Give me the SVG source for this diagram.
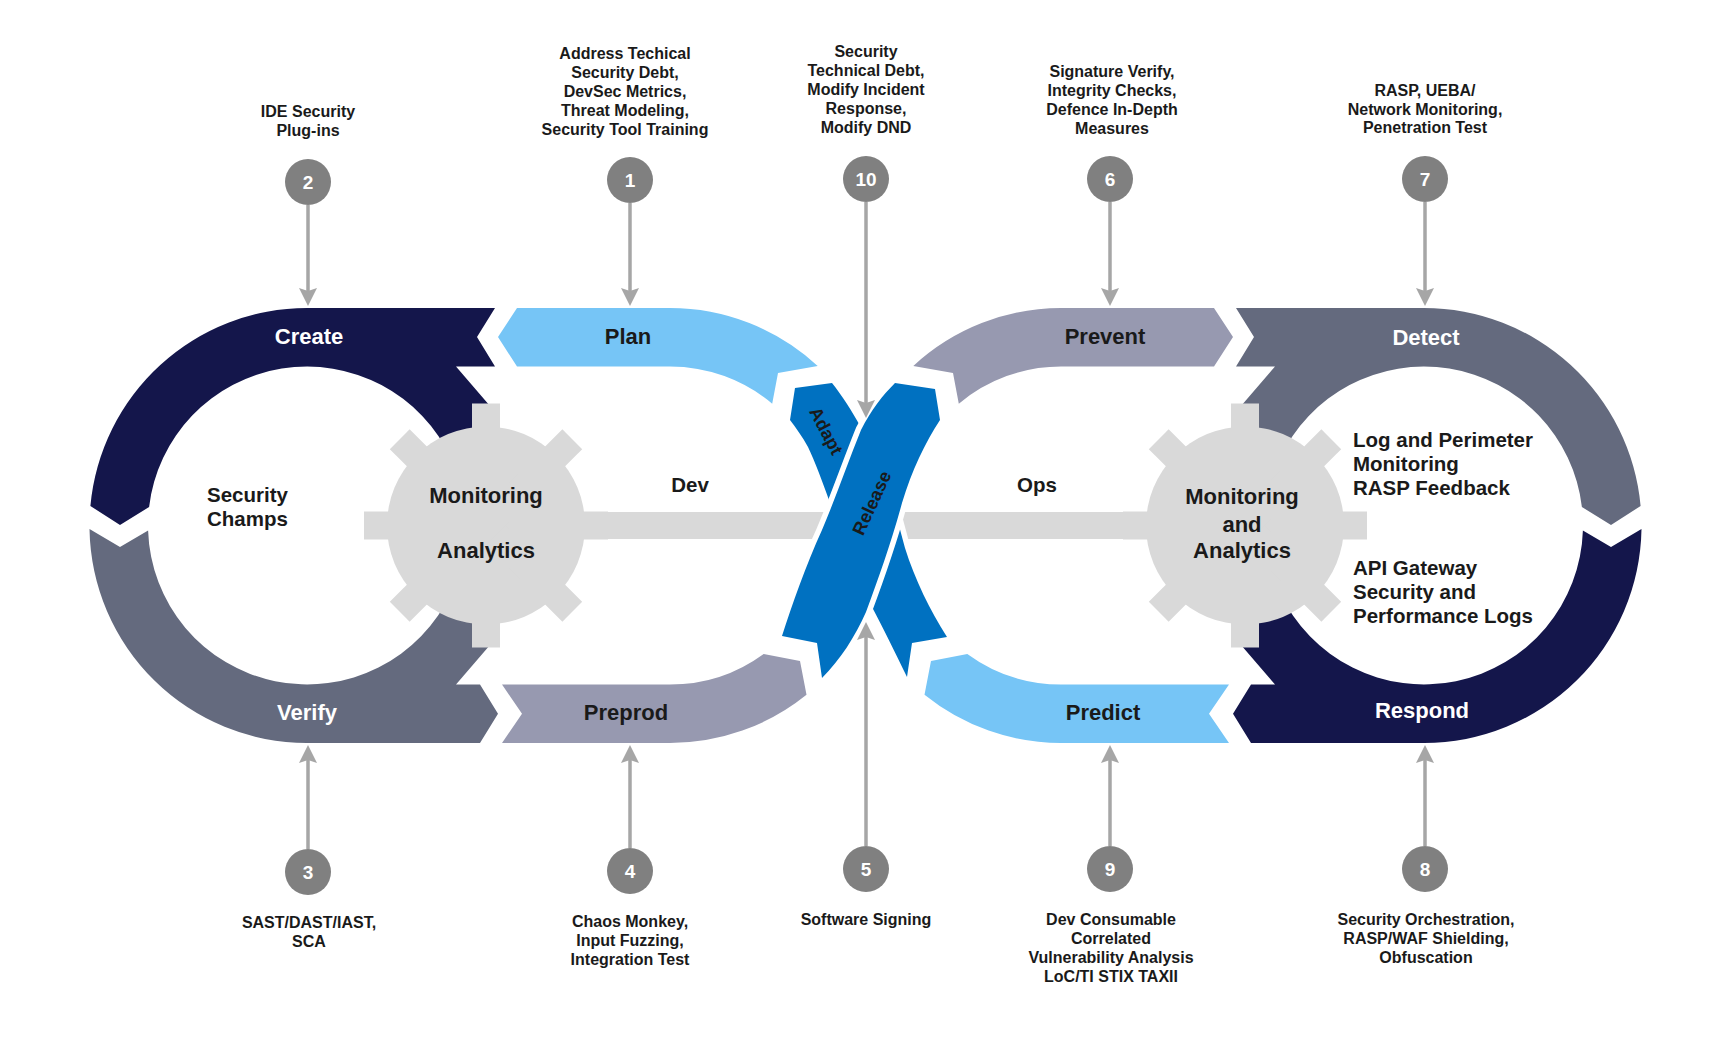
<svg xmlns="http://www.w3.org/2000/svg" width="1732" height="1058" viewBox="0 0 1732 1058">
<style>
.lbl{font-family:"Liberation Sans",Arial,sans-serif;font-weight:bold;font-size:16px;fill:#1a1a1a;text-anchor:middle}
.band{font-family:"Liberation Sans",Arial,sans-serif;font-weight:bold;font-size:22px;text-anchor:middle}
.w{fill:#ffffff}
.d{fill:#1a1a1a}
.mid{font-family:"Liberation Sans",Arial,sans-serif;font-weight:bold;font-size:20.5px;fill:#1a1a1a}
.gt{font-family:"Liberation Sans",Arial,sans-serif;font-weight:bold;font-size:22px;fill:#1a1a1a;text-anchor:middle}
.rib{font-family:"Liberation Sans",Arial,sans-serif;font-weight:bold;font-size:18px;fill:#1a1a1a;text-anchor:middle}
.num{font-family:"Liberation Sans",Arial,sans-serif;font-weight:bold;font-size:19px;fill:#ffffff;text-anchor:middle}
.navy{fill:#14164b}
.slate{fill:#646a7e}
.lblue{fill:#76c5f6}
.lav{fill:#9799b0}
.ribbon{fill:#0071c1;stroke:#ffffff;stroke-width:11;stroke-linejoin:round;paint-order:stroke fill}
.gear{fill:#d9d9d9}
.circ{fill:#808080}
.arr{stroke:#a6a6a6;stroke-width:3.5;fill:none;marker-end:url(#ah)}
</style>
<defs>
<marker id="ah" markerWidth="18" markerHeight="18" refX="3" refY="9" orient="auto" markerUnits="userSpaceOnUse">
<path d="M0,0 L18,9 L0,18 L3,9 Z" fill="#a6a6a6"/>
</marker>
<path id="createShape" d="M90.4,506 A217.5,217.5 0 0 1 307,308 L495,308 L477,337 L495,366.5 L456,366.5 L490,406 L486,525.5 L451.1,458.3 A159,159 0 0 0 149.1,507 L120,525 Z"/>
<path id="verifyShape" d="M89.5,529 L120,547 L148.1,530.5 A159,159 0 0 0 451.1,592.7 L486,525.5 L490,645 L456,684.5 L480,684.5 L498,713.75 L480,743 L307,743 A217.5,217.5 0 0 1 89.5,529 Z"/>
<path id="planShape" d="M498,337 L517,308 L670,308 A217.5,217.5 0 0 1 817.7,365.9 L778,373 L772.2,403.7 A159,159 0 0 0 670,366.5 L517,366.5 Z"/>
<path id="preprodShape" d="M502,684.5 L670,684.5 A159,159 0 0 0 763.7,653.9 L800,661 L806.5,694.8 A217.5,217.5 0 0 1 670,743 L502,743 L522,713.75 Z"/>
<g id="gearShape">
<circle cx="0" cy="0" r="99"/>
<rect x="-122" y="-14" width="244" height="28"/>
<rect x="-14" y="-122" width="28" height="244"/>
<rect x="-122" y="-14" width="244" height="28" transform="rotate(45)"/>
<rect x="-122" y="-14" width="244" height="28" transform="rotate(-45)"/>
</g>
</defs>

<g id="create"><use href="#createShape" class="navy"/><text class="band w" x="309" y="344">Create</text></g>
<g id="verify"><use href="#verifyShape" class="slate"/><text class="band w" x="307" y="720">Verify</text></g>
<g id="plan"><use href="#planShape" class="lblue"/><text class="band d" x="628" y="344">Plan</text></g>
<g id="preprod"><use href="#preprodShape" class="lav"/><text class="band d" x="626" y="720">Preprod</text></g>

<g id="detect"><use href="#createShape" class="slate" transform="matrix(-1 0 0 1 1731 0)"/><text class="band w" x="1426" y="345">Detect</text></g>
<g id="respond"><use href="#verifyShape" class="navy" transform="matrix(-1 0 0 1 1731 0)"/><text class="band w" x="1422" y="718">Respond</text></g>
<g id="prevent"><use href="#planShape" class="lav" transform="matrix(-1 0 0 1 1731 0)"/><text class="band d" x="1105" y="344">Prevent</text></g>
<g id="predict"><use href="#preprodShape" class="lblue" transform="matrix(-1 0 0 1 1731 0)"/><text class="band d" x="1103" y="720">Predict</text></g>

<g id="axis">
<rect x="486" y="512" width="759" height="27" class="gear"/>
<text class="mid" x="690" y="492" text-anchor="middle">Dev</text>
<text class="mid" x="1037" y="492" text-anchor="middle">Ops</text>
</g>

<g id="adapt">
<path class="ribbon" d="M795,388 L832,383 C852,408 872,445 885,480 C895,508 900,530 905,548 C915,580 930,610 947,637 L912,643 L907,677 C895,652 883,628 872,607 C855,572 842,535 830,503 C822,480 815,462 808,447 C802,436 796,428 790,420 Z"/>
<text class="rib" transform="translate(826,431) rotate(62)" y="6">Adapt</text>
</g>
<g id="release">
<path class="ribbon" d="M895,383 L935,389 L940,420 C925,443 912,470 902,503 C892,540 878,580 866,612 C855,637 840,660 822,678 L817,643 L782,636 C792,605 806,565 822,530 C836,497 848,462 861,430 C871,410 883,395 895,383 Z"/>
<text class="rib" transform="translate(872,503) rotate(-65)" y="6">Release</text>
</g>

<g id="gear-left">
<use href="#gearShape" class="gear" transform="translate(486,525.5)"/>
<text class="gt" x="486" y="503">Monitoring</text>
<text class="gt" x="486" y="558">Analytics</text>
</g>
<g id="gear-right">
<use href="#gearShape" class="gear" transform="translate(1245,525.5)"/>
<text class="gt" x="1242" y="504">Monitoring</text>
<text class="gt" x="1242" y="532">and</text>
<text class="gt" x="1242" y="558">Analytics</text>
</g>

<g id="security-champs">
<text class="mid" x="207" y="502">Security</text>
<text class="mid" x="207" y="526">Champs</text>
</g>
<g id="right-notes">
<text class="mid" x="1353" y="447">Log and Perimeter</text>
<text class="mid" x="1353" y="471">Monitoring</text>
<text class="mid" x="1353" y="495">RASP Feedback</text>
<text class="mid" x="1353" y="575">API Gateway</text>
<text class="mid" x="1353" y="599">Security and</text>
<text class="mid" x="1353" y="623">Performance Logs</text>
</g>

<g id="connectors">
<line class="arr" x1="308" y1="205" x2="308" y2="291"/>
<line class="arr" x1="630" y1="203" x2="630" y2="291"/>
<line class="arr" x1="866" y1="202" x2="866" y2="403"/>
<line class="arr" x1="1110" y1="202" x2="1110" y2="291"/>
<line class="arr" x1="1425" y1="202" x2="1425" y2="291"/>
<line class="arr" x1="308" y1="849" x2="308" y2="760"/>
<line class="arr" x1="630" y1="848" x2="630" y2="760"/>
<line class="arr" x1="866" y1="846" x2="866" y2="637"/>
<line class="arr" x1="1110" y1="846" x2="1110" y2="760"/>
<line class="arr" x1="1425" y1="846" x2="1425" y2="760"/>
</g>

<g id="n2"><circle class="circ" cx="308" cy="182" r="23"/><text class="num" x="308" y="189">2</text>
<text class="lbl" x="308" y="117">IDE Security</text><text class="lbl" x="308" y="136">Plug-ins</text></g>
<g id="n1"><circle class="circ" cx="630" cy="180" r="23"/><text class="num" x="630" y="187">1</text>
<text class="lbl" x="625" y="59">Address Techical</text><text class="lbl" x="625" y="78">Security Debt,</text><text class="lbl" x="625" y="97">DevSec Metrics,</text><text class="lbl" x="625" y="116">Threat Modeling,</text><text class="lbl" x="625" y="135">Security Tool Training</text></g>
<g id="n10"><circle class="circ" cx="866" cy="179" r="23"/><text class="num" x="866" y="186">10</text>
<text class="lbl" x="866" y="57">Security</text><text class="lbl" x="866" y="76">Technical Debt,</text><text class="lbl" x="866" y="95">Modify Incident</text><text class="lbl" x="866" y="114">Response,</text><text class="lbl" x="866" y="133">Modify DND</text></g>
<g id="n6"><circle class="circ" cx="1110" cy="179" r="23"/><text class="num" x="1110" y="186">6</text>
<text class="lbl" x="1112" y="77">Signature Verify,</text><text class="lbl" x="1112" y="96">Integrity Checks,</text><text class="lbl" x="1112" y="115">Defence In-Depth</text><text class="lbl" x="1112" y="134">Measures</text></g>
<g id="n7"><circle class="circ" cx="1425" cy="179" r="23"/><text class="num" x="1425" y="186">7</text>
<text class="lbl" x="1425" y="96">RASP, UEBA/</text><text class="lbl" x="1425" y="115">Network Monitoring,</text><text class="lbl" x="1425" y="133">Penetration Test</text></g>
<g id="n3"><circle class="circ" cx="308" cy="872" r="23"/><text class="num" x="308" y="879">3</text>
<text class="lbl" x="309" y="928">SAST/DAST/IAST,</text><text class="lbl" x="309" y="947">SCA</text></g>
<g id="n4"><circle class="circ" cx="630" cy="871" r="23"/><text class="num" x="630" y="878">4</text>
<text class="lbl" x="630" y="927">Chaos Monkey,</text><text class="lbl" x="630" y="946">Input Fuzzing,</text><text class="lbl" x="630" y="965">Integration Test</text></g>
<g id="n5"><circle class="circ" cx="866" cy="869" r="23"/><text class="num" x="866" y="876">5</text>
<text class="lbl" x="866" y="925">Software Signing</text></g>
<g id="n9"><circle class="circ" cx="1110" cy="869" r="23"/><text class="num" x="1110" y="876">9</text>
<text class="lbl" x="1111" y="925">Dev Consumable</text><text class="lbl" x="1111" y="944">Correlated</text><text class="lbl" x="1111" y="963">Vulnerability Analysis</text><text class="lbl" x="1111" y="982">LoC/TI STIX TAXII</text></g>
<g id="n8"><circle class="circ" cx="1425" cy="869" r="23"/><text class="num" x="1425" y="876">8</text>
<text class="lbl" x="1426" y="925">Security Orchestration,</text><text class="lbl" x="1426" y="944">RASP/WAF Shielding,</text><text class="lbl" x="1426" y="963">Obfuscation</text></g>
</svg>
